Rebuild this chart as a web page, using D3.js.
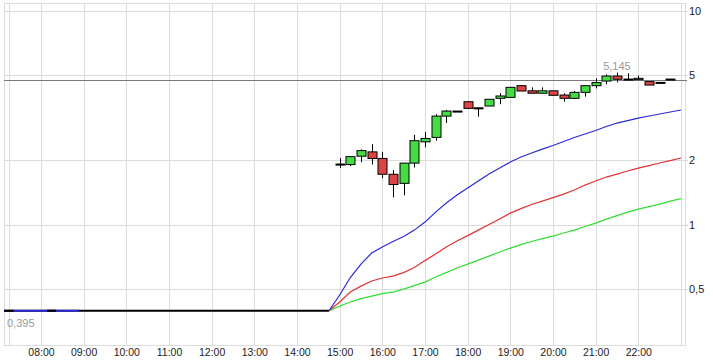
<!DOCTYPE html>
<html>
<head>
<meta charset="utf-8">
<style>
  body { margin: 0; background: #fff; }
  text { font-family: "Liberation Sans", Arial, sans-serif; }
  .grid line { stroke: #dcdcdc; shape-rendering: crispEdges; }
</style>
</head>
<body>
<script src="https://d3js.org/d3.v7.min.js"></script>
<script>

// right (log) axis ticks
var yTicks = [0.5, 1, 2, 5, 10];
var yTickLabels = ["0,5", "1", "2", "5", "10"];

// bottom axis ticks
var xTicks = ["08:00", "09:00", "10:00", "11:00", "12:00", "13:00", "14:00", "15:00",
              "16:00", "17:00", "18:00", "19:00", "20:00", "21:00", "22:00"];
var xGridExtra = ["07:15", "23:00"];

// flat price before the session
var flatLevel = 0.395;
var flatTimes = ["07:08", "14:45"];
var flatBlue = ["07:20", "08:53"];
var preDashes = ["07:15", "08:15"];
var lowLabel = "0,395";

// reference line and session high
var refLevel = 4.75;
var highTime = "21:30", highValue = 5.145, highLabel = "5,145";

// 15 minute candles
var candleTimes = ["15:00", "15:15", "15:30", "15:45", "16:00", "16:15", "16:30", "16:45",
                   "17:00", "17:15", "17:30", "17:45", "18:00", "18:15", "18:30", "18:45",
                   "19:00", "19:15", "19:30", "19:45", "20:00", "20:15", "20:30", "20:45",
                   "21:00", "21:15", "21:30", "21:45", "22:00", "22:15", "22:30", "22:45"];
var open  = [1.92, 1.91, 2.09, 2.19, 2.04, 1.72, 1.56, 1.94, 2.44, 2.56, 3.22, 3.40, 3.76, 3.52, 3.59, 3.90,
             3.94, 4.47, 4.23, 4.12, 4.23, 4.04, 3.90, 4.16, 4.47, 4.70, 4.96, 4.80, 4.77, 4.67, 4.63, 4.80];
var high  = [2.05, 2.08, 2.25, 2.38, 2.19, 1.80, 1.94, 2.63, 2.72, 3.29, 3.44, 3.40, 3.76, 3.52, 3.86, 4.12,
             4.39, 4.50, 4.39, 4.39, 4.23, 4.12, 4.22, 4.47, 4.84, 5.05, 5.145, 5.11, 4.98, 4.67, 4.63, 4.80];
var low   = [1.84, 1.88, 1.96, 1.91, 1.65, 1.34, 1.37, 1.85, 2.30, 2.47, 2.99, 3.40, 3.50, 3.20, 3.59, 3.66,
             3.94, 4.22, 4.12, 4.12, 4.00, 3.76, 3.87, 3.97, 4.34, 4.54, 4.63, 4.80, 4.77, 4.50, 4.59, 4.80];
var close = [1.92, 2.08, 2.22, 2.04, 1.72, 1.54, 1.94, 2.47, 2.53, 3.22, 3.40, 3.40, 3.50, 3.52, 3.86, 4.00,
             4.39, 4.22, 4.12, 4.23, 4.03, 3.90, 4.16, 4.47, 4.62, 4.96, 4.79, 4.80, 4.84, 4.50, 4.59, 4.80];

// moving averages
var maTimes = ["14:45", "15:00", "15:15", "15:30", "15:45", "16:00", "16:15", "16:30", "16:45",
               "17:00", "17:15", "17:30", "17:45", "18:00", "18:15", "18:30", "18:45",
               "19:00", "19:15", "19:30", "19:45", "20:00", "20:15", "20:30", "20:45",
               "21:00", "21:15", "21:30", "21:45", "22:00", "22:15", "22:30", "22:45", "23:00"];
var maBlue  = [0.395, 0.468, 0.565, 0.653, 0.736, 0.785, 0.833, 0.879, 0.942, 1.027, 1.144, 1.261, 1.374,
               1.483, 1.599, 1.724, 1.839, 1.962, 2.071, 2.162, 2.257, 2.344, 2.448, 2.556, 2.654, 2.756,
               2.877, 2.988, 3.069, 3.153, 3.223, 3.293, 3.365, 3.438];
var maRed   = [0.395, 0.434, 0.483, 0.515, 0.544, 0.562, 0.574, 0.596, 0.629, 0.678, 0.728, 0.785, 0.837,
               0.888, 0.942, 1.000, 1.061, 1.132, 1.188, 1.241, 1.288, 1.338, 1.389, 1.451, 1.531, 1.599,
               1.669, 1.724, 1.781, 1.839, 1.889, 1.942, 1.994, 2.049];
var maGreen = [0.395, 0.415, 0.434, 0.450, 0.462, 0.475, 0.483, 0.499, 0.518, 0.538, 0.568, 0.596, 0.626,
               0.653, 0.682, 0.712, 0.744, 0.776, 0.806, 0.833, 0.860, 0.883, 0.913, 0.942, 0.979, 1.016,
               1.061, 1.102, 1.144, 1.182, 1.214, 1.247, 1.288, 1.324];

var W = 713, H = 364;
var plotLeft = 4, plotRight = 685, plotTop = 3, plotBottom = 345;

var t = d3.timeParse("%H:%M");

var x = d3.scaleTime()
    .domain([t("08:00"), t("22:00")])
    .range([41, 638.3]);

var y = d3.scaleLog()
    .domain([0.273, 10.9])
    .range([plotBottom, plotTop]);

var svg = d3.select("body").append("svg")
    .attr("width", W)
    .attr("height", H);

// vertical gridlines
var vg = svg.append("g").attr("class", "grid");
vg.selectAll("line.v")
    .data(xTicks.concat(xGridExtra))
    .enter().append("line")
    .attr("class", "v")
    .attr("x1", function(d) { return Math.round(x(t(d))) + 0.5; })
    .attr("x2", function(d) { return Math.round(x(t(d))) + 0.5; })
    .attr("y1", plotTop)
    .attr("y2", plotBottom);

// horizontal gridlines
vg.selectAll("line.h")
    .data(yTicks)
    .enter().append("line")
    .attr("class", "h")
    .attr("x1", plotLeft)
    .attr("x2", plotRight + 3)
    .attr("y1", function(d) { return Math.round(y(d)) + 0.5; })
    .attr("y2", function(d) { return Math.round(y(d)) + 0.5; });

// frame
svg.append("rect")
    .attr("x", plotLeft + 0.5)
    .attr("y", plotTop + 0.5)
    .attr("width", plotRight - plotLeft)
    .attr("height", plotBottom - plotTop)
    .attr("fill", "none")
    .attr("stroke", "#dcdcdc")
    .style("shape-rendering", "crispEdges");

// bottom axis labels
var xAxis = d3.axisBottom(x)
    .tickValues(xTicks.map(t))
    .tickFormat(d3.timeFormat("%H:%M"))
    .tickSize(0)
    .tickPadding(0);
var gx = svg.append("g")
    .attr("transform", "translate(0," + plotBottom + ")")
    .call(xAxis);
gx.select(".domain").remove();
gx.selectAll("text")
    .attr("y", 11)
    .attr("dy", 0)
    .attr("fill", "#222")
    .style("font-size", "10.5px")
    .style("font-family", "'Liberation Sans', Arial, sans-serif");

// right axis labels
var yAxis = d3.axisRight(y)
    .tickValues(yTicks)
    .tickFormat(function(d, i) { return yTickLabels[i]; })
    .tickSize(3)
    .tickPadding(1);
var gy = svg.append("g")
    .attr("transform", "translate(" + plotRight + ",0)")
    .call(yAxis);
gy.select(".domain").remove();
gy.selectAll(".tick line").attr("stroke", "#dcdcdc");
gy.selectAll("text")
    .attr("fill", "#222")
    .style("font-size", "11px")
    .style("font-family", "'Liberation Sans', Arial, sans-serif");

// reference line
svg.append("line")
    .attr("x1", plotLeft)
    .attr("x2", plotRight + 2)
    .attr("y1", Math.round(y(refLevel)) + 0.5)
    .attr("y2", Math.round(y(refLevel)) + 0.5)
    .attr("stroke", "#7a7a7a")
    .attr("stroke-width", 1);

// flat line before the session
svg.append("line")
    .attr("x1", x(t(flatTimes[0])))
    .attr("x2", x(t(flatTimes[1])))
    .attr("y1", y(flatLevel))
    .attr("y2", y(flatLevel))
    .attr("stroke", "#000")
    .attr("stroke-width", 2);
svg.append("line")
    .attr("x1", x(t(flatBlue[0])))
    .attr("x2", x(t(flatBlue[1])))
    .attr("y1", y(flatLevel))
    .attr("y2", y(flatLevel))
    .attr("stroke", "#2a2ad8")
    .attr("stroke-width", 2);

// moving average lines
var line = d3.line()
    .x(function(d) { return x(t(d[0])); })
    .y(function(d) { return y(d[1]); });

var maSeries = [
    { values: maGreen, color: "#33dd33" },
    { values: maRed, color: "#e03333" },
    { values: maBlue, color: "#2a2ad8" }
];
maSeries.forEach(function(s) {
    svg.append("path")
        .datum(d3.zip(maTimes, s.values))
        .attr("fill", "none")
        .attr("stroke", s.color)
        .attr("stroke-width", 1.2)
        .attr("d", line);
});

// candles
var slot = x(t("15:15")) - x(t("15:00"));
var bodyW = Math.round(slot * 0.85);

var candles = candleTimes.map(function(d, i) {
    return { time: t(d), o: open[i], h: high[i], l: low[i], c: close[i] };
});

var cs = svg.append("g").selectAll("g")
    .data(candles)
    .enter().append("g");

cs.append("line")
    .attr("x1", function(d) { return Math.round(x(d.time)) + 0.5; })
    .attr("x2", function(d) { return Math.round(x(d.time)) + 0.5; })
    .attr("y1", function(d) { return y(d.h); })
    .attr("y2", function(d) { return y(d.l); })
    .attr("stroke", "#000")
    .attr("stroke-width", 1);

cs.append("rect")
    .attr("x", function(d) { return Math.round(x(d.time)) - (bodyW - 1) / 2; })
    .attr("width", bodyW)
    .attr("y", function(d) { return Math.min(y(d.o), y(d.c)); })
    .attr("height", function(d) { return Math.max(1, Math.abs(y(d.o) - y(d.c))); })
    .attr("fill", function(d) { return d.c > d.o ? "#44dd44" : (d.c < d.o ? "#dd4444" : "#000"); })
    .attr("stroke", "#000")
    .attr("stroke-width", 1);

// flat dashes before the session
svg.selectAll("line.pre")
    .data(preDashes)
    .enter().append("line")
    .attr("class", "pre")
    .attr("x1", function(d) { return x(t(d)) - bodyW / 2; })
    .attr("x2", function(d) { return x(t(d)) + bodyW / 2; })
    .attr("y1", y(flatLevel))
    .attr("y2", y(flatLevel))
    .attr("stroke", "#000")
    .attr("stroke-width", 2);

// value labels
svg.append("text")
    .attr("x", 7)
    .attr("y", y(flatLevel) + 16)
    .attr("fill", "#999")
    .style("font-size", "11px")
    .text(lowLabel);

svg.append("text")
    .attr("x", x(t(highTime)))
    .attr("y", y(highValue) - 3)
    .attr("text-anchor", "middle")
    .attr("fill", "#999")
    .style("font-size", "11px")
    .text(highLabel);

</script>
</body>
</html>
